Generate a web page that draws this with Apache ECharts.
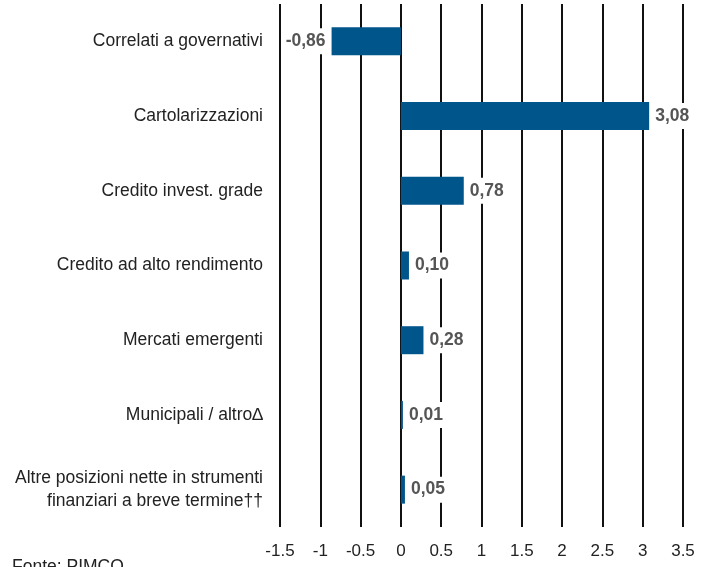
<!DOCTYPE html>
<html>
<head>
<meta charset="utf-8">
<script src="https://cdn.jsdelivr.net/npm/echarts@6/dist/echarts.min.js"></script>
<style>
  html, body { margin: 0; padding: 0; background: #fff; }
  #chart { width: 713px; height: 567px; }
</style>
</head>
<body>
<div id="chart"></div>
<script>
var categories = [
    'Correlati a governativi',
    'Cartolarizzazioni',
    'Credito invest. grade',
    'Credito ad alto rendimento',
    'Mercati emergenti',
    'Municipali / altro\u2206',
    'Altre posizioni nette in strumenti\nfinanziari a breve termine\u2020\u2020'
];
var values = [-0.86, 3.08, 0.78, 0.10, 0.28, 0.01, 0.05];
var tickLabels = ['-1.5', '-1', '-0.5', '0', '0.5', '1', '1.5', '2', '2.5', '3', '3.5'];

var FONT = '"Liberation Sans", Arial, sans-serif';

var myChart = echarts.init(document.getElementById('chart'));

var barData = values.map(function (v) {
    return {
        value: v,
        label: { position: v < 0 ? 'left' : 'right' }
    };
});

var option = {
    backgroundColor: '#fff',
    animation: false,
    grid: { left: 280, right: 30, top: 4, bottom: 40, outerBoundsMode: 'none', containLabel: false },
    xAxis: {
        type: 'value',
        min: -1.5,
        max: 3.5,
        interval: 0.5,
        axisLine: { show: false },
        axisTick: { show: false },
        splitLine: { show: true, lineStyle: { color: '#111', width: 2 } },
        axisLabel: {
            margin: 16,
            fontFamily: FONT,
            fontSize: 17,
            color: '#222',
            formatter: function (v) {
                var i = Math.round((v + 1.5) / 0.5);
                return tickLabels[i] || '';
            }
        }
    },
    yAxis: {
        type: 'category',
        inverse: true,
        data: categories,
        axisLine: { show: false },
        axisTick: { show: false },
        axisLabel: {
            margin: 17,
            fontFamily: FONT,
            fontSize: 17.5,
            color: '#222',
            lineHeight: 23,
            align: 'right'
        }
    },
    series: [{
        type: 'bar',
        data: barData,
        barWidth: 28,
        barMinHeight: 2,
        itemStyle: { color: '#00558B' },
        label: {
            show: true,
            distance: 4,
            fontFamily: FONT,
            fontSize: 17.5,
            fontWeight: 'bold',
            color: '#555',
            backgroundColor: '#fff',
            padding: [4, 2],
            formatter: function (p) {
                return p.value.toFixed(2).replace('.', ',');
            }
        }
    }],
    graphic: [{
        type: 'text',
        left: 12,
        top: 558,
        style: {
            text: 'Fonte: PIMCO',
            fontFamily: FONT,
            fontSize: 17.5,
            fill: '#222'
        }
    }]
};

myChart.setOption(option);
</script>
</body>
</html>
